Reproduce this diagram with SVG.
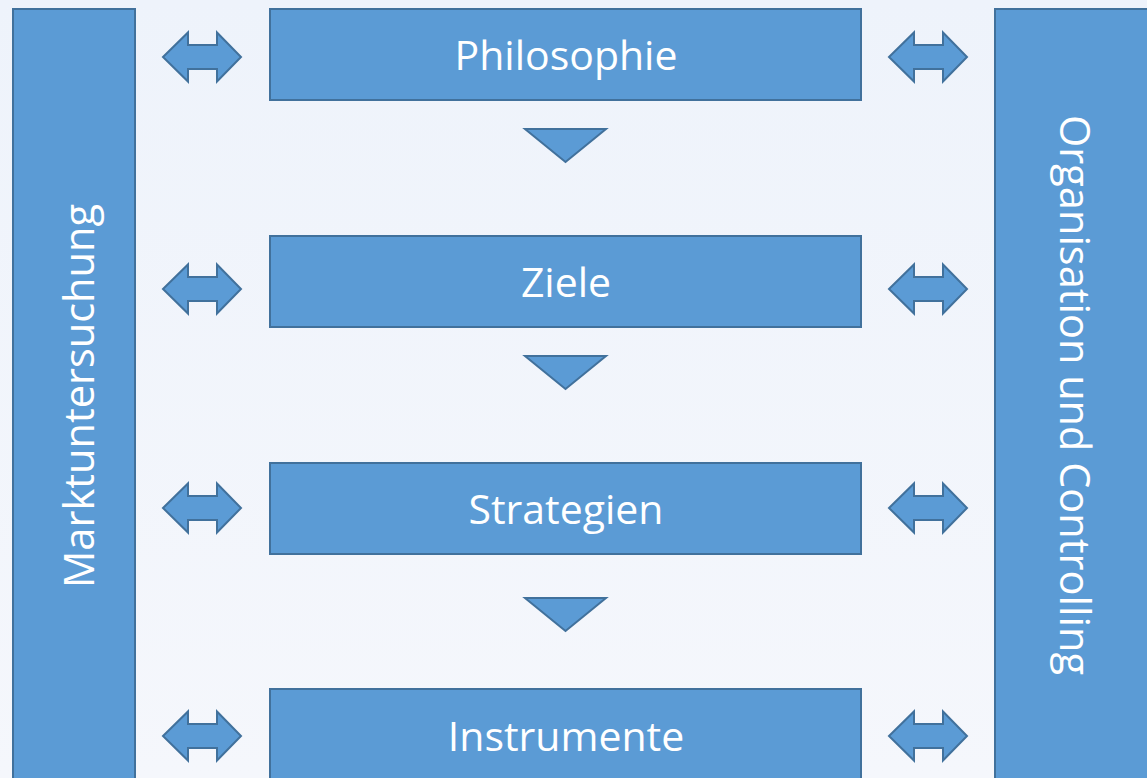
<svg xmlns="http://www.w3.org/2000/svg" width="1147" height="778" viewBox="0 0 1147 778">
  <defs>
    <linearGradient id="bg" x1="0" y1="0" x2="0" y2="1">
      <stop offset="0" stop-color="#eef3fb"/>
      <stop offset="1" stop-color="#f5f7fc"/>
    </linearGradient>
    <polygon id="dbl" points="0,0 25,-24.5 25,-12 54,-12 54,-24.5 78,0 54,24.5 54,12 25,12 25,24.5"/>
    <polygon id="tri" points="0,0 81,0 40.5,33"/>
  </defs>
  <style>
    .shape { fill: #5b9bd5; stroke: #41719c; stroke-width: 2; }
    .lbl { fill: #ffffff; font-family: "Open Sans", "Noto Sans", "Liberation Sans", sans-serif; font-size: 41px; text-anchor: middle; }
    .vlbl { fill: #ffffff; font-family: "Open Sans", "Noto Sans", "Liberation Sans", sans-serif; font-size: 41.5px; text-anchor: middle; }
  </style>
  <rect x="0" y="0" width="1147" height="778" fill="url(#bg)"/>

  <g id="marktuntersuchung">
    <rect class="shape" x="13" y="9" width="122" height="780"/>
    <text class="vlbl" transform="translate(94,396) rotate(-90)">Marktuntersuchung</text>
  </g>
  <g id="organisation">
    <rect class="shape" x="995" y="9" width="170" height="780"/>
    <text class="vlbl" transform="translate(1060,395) rotate(90)">Organisation und Controlling</text>
  </g>

  <g id="philosophie">
    <rect class="shape" x="270" y="9" width="591" height="91"/>
    <text class="lbl" x="566" y="70">Philosophie</text>
  </g>
  <g id="ziele">
    <rect class="shape" x="270" y="236" width="591" height="91"/>
    <text class="lbl" x="566" y="297">Ziele</text>
  </g>
  <g id="strategien">
    <rect class="shape" x="270" y="463" width="591" height="91"/>
    <text class="lbl" x="566" y="524">Strategien</text>
  </g>
  <g id="instrumente">
    <rect class="shape" x="270" y="689" width="591" height="100"/>
    <text class="lbl" x="566" y="751">Instrumente</text>
  </g>

  <g id="connectors">
    <use href="#dbl" class="shape" x="163" y="57"/>
    <use href="#dbl" class="shape" x="889" y="57"/>
    <use href="#dbl" class="shape" x="163" y="289"/>
    <use href="#dbl" class="shape" x="889" y="289"/>
    <use href="#dbl" class="shape" x="163" y="508"/>
    <use href="#dbl" class="shape" x="889" y="508"/>
    <use href="#dbl" class="shape" x="163" y="736"/>
    <use href="#dbl" class="shape" x="889" y="736"/>
    <use href="#tri" class="shape" x="525" y="129"/>
    <use href="#tri" class="shape" x="525" y="356"/>
    <use href="#tri" class="shape" x="525" y="598"/>
  </g>
</svg>
